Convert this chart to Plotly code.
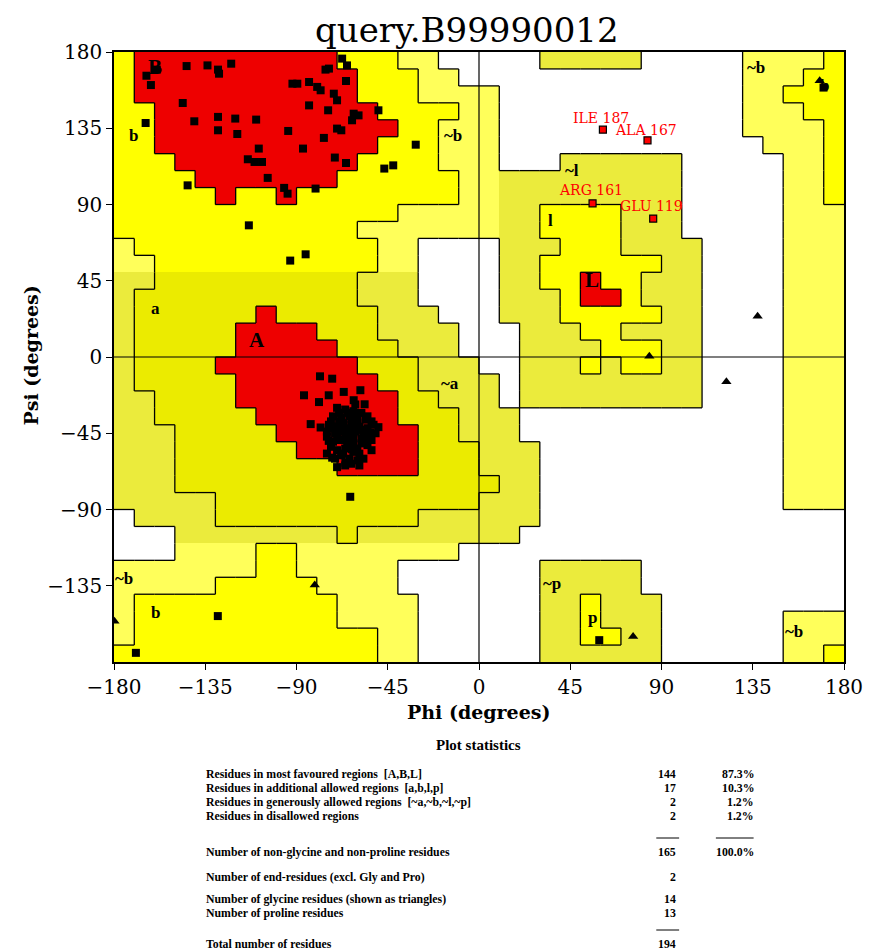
import plotly.graph_objects as go

# ---------------- data ----------------
# Region grid: 36 rows (psi 180 -> -180, 10 deg each), 36 cols (phi -180 -> 180)
# '.' disallowed, 'p' generous(beta), 'q' generous(alpha), 'Y' allowed(beta), 'O' allowed(alpha), 'R' core
region_rows = [
    "YRRRRRRRRRRYYYpp.." + "...qqqqq.....ppppY",
    "YRRRRRRRRRRRYYYpp." + ".............pppYY",
    "YRRRRRRRRRRRYYYppp" + "p............ppYYY",
    "YYRRRRRRRRRRRYYYYp" + "p............pppYY",
    "YYRRRRRRRRRRRRYYpp" + "p............ppppY",
    "YYRRRRRRRRRRRYYYpp" + "p.............pppY",
    "YYYRRRRRRRRRYYYYpp" + "p...qqqqqq.....ppY",
    "YYYYRRRRRRRYYYYYYp" + "pqqqqqqqqq.....ppY",
    "YYYYYRYYRYYYYYYYYp" + "pqqqqqqqqq.....ppY",
    "YYYYYYYYYYYYYYpppp" + "pqqYYYYqqq.....ppp",
    "YYYYYYYYYYYYpppppp" + "pqqYYYYqqq.....ppp",
    "pYYYYYYYYYYYYpp..." + ".qqqYYYqqqq....ppp",
    "ppYYYYYYYYYYYpp..." + ".qqYYYYYYqq....ppp",
    "qqOOOOOOOOOOqqq..." + ".qqYYRYYqqq....ppp",
    "qOOOOOOOOOOOqqq..." + ".qqqYRRYqqq....ppp",
    "qOOOOOOROOOOOqqq.." + ".qqqYYYYYqq....ppp",
    "qOOOOORRRROOOqqqq." + "..qqqYYqqqq....ppp",
    "qOOOOORRRRROOOqqq." + "..qqqqYYYqq....ppp",
    "qOOOORRRRRRROOOqqq" + "..qqqYqYYqq....ppp",
    "qOOOOORRRRRRROOqqq" + "q.qqqqqqqqq....ppp",
    "qqOOOORRRRRRRROOqq" + "q.qqqqqqqqq....ppp",
    "qqOOOOORRRRRRROOOq" + "qq.............ppp",
    "qqqOOOOORRRRRRROOq" + "qq.............ppp",
    "qqqOOOOOORRRRRROOO" + "qqq............ppp",
    "qqqOOOOOOOORRRROOO" + "qqq............ppp",
    "qqqOOOOOOOOOOOOOOO" + "Oqq............ppp",
    "qqqqqOOOOOOOOOOOOO" + "qqq............ppp",
    ".qqqqOOOOOOOOOOqqq" + "qqq...............",
    "...qqqqqqqqOqqqqqq" + "qq................",
    "...ppppYYpppppppp." + "..................",
    "pppppppYYppppp...." + "...qqqqq..........",
    "pppppYYYYYpppp...." + "...qqqqq..........",
    "pYYYYYYYYYYpppp..." + "...qqYqqq.........",
    "pYYYYYYYYYYpppp..." + "...qqYqqq......ppp",
    "pYYYYYYYYYYYYpp..." + "...qqYYqq......ppp",
    "YYYYYYYYYYYYYpp..." + "...qqqqqq......ppY",
]
phi_centers = list(range(-175, 180, 10))
psi_centers = list(range(175, -180, -10))

# residues in the beta region (squares)
beta_phi = [-164, -161.8, -158.9, -144.2, -133.9, -128.7, -128.2, -122.2, -75.7, -74.0,
            -67.5, -65.1, -92.0, -89.6, -83.8, -79.8, -78.1, -71.6, -70.0, -65.6,
            -146.1, -83.8, -74.4, -61.8, -59.4, -62.6, -49.6, -164.4, -140.4, -128.7,
            -120.2, -109.9, -128.7, -119.2, -94.1, -76.5, -70.0, -67.9, -86.8, -108.6,
            -114.0, -110.7, -107.0, -71.1, -65.6, -104.2, -96.1, -94.4, -80.6, -143.7,
            -31.2, -46.7, -42.3, -113.5, -85.5, -93.1, 169.9]
beta_psi = [166, 160.5, 169.6, 171.7, 172.1, 169.6, 167.2, 173.1, 169.6, 170.2,
            176.1, 172.1, 161.3, 161.3, 162.3, 159.4, 157.4, 155.4, 151.5, 162.9,
            149.9, 148.5, 145.6, 143.6, 142.6, 139.7, 145.6, 138.1, 139.1, 141.7,
            140.7, 140.1, 133.8, 131.6, 133.4, 129.3, 134.8, 133.8, 123.0, 123.0,
            116.7, 115.1, 115.1, 117.7, 114.5, 105.7, 99.8, 96.4, 99.4, 101.3,
            125.3, 111.2, 113.1, 77.7, 60.6, 56.9, 159.0]

# residues in the alpha region (squares)
alpha_phi = [-70, -66, -62, -58, -72, -68, -64, -60, -56, -53,
             -74, -70, -67, -63, -59, -55, -52, -71, -67, -64,
             -61, -57, -54, -69, -65, -62, -58, -55, -73, -70,
             -66, -62, -59, -68, -64, -60, -75, -72, -65, -60,
             -63, -69, -57, -62, -66, -71, -75, -53, -61, -65,
             -68, -64, -60, -56, -70, -66, -62, -58, -64, -60,
             -67, -63, -57, -72, -61, -55, -69, -73, -75, -51,
             -59, -66, -53, -70,
             -78.4, -72.4, -86.3, -78.9, -74.1, -66.7, -58.5, -61.8, -56.4, -49.6,
             -83.0, -78.1, -74.1, -72.4, -65.9, -62.6, -56.1, -53.6]
alpha_psi = [-30, -31, -32, -33, -35, -36, -35, -36, -37, -38,
             -40, -41, -39, -40, -41, -42, -40, -45, -44, -46,
             -44, -46, -47, -49, -50, -48, -51, -52, -53, -55,
             -54, -56, -57, -58, -60, -61, -47, -50, -42, -39,
             -37, -38, -43, -52, -47, -60, -57, -49, -28, -33,
             -43, -43, -43, -45, -47, -49, -45, -48, -53, -54,
             -57, -63, -60, -42, -33, -35, -33, -38, -44, -45,
             -64, -64, -55, -65,
             -11.4, -12.8, -22.6, -26.6, -22.6, -20.6, -19.6, -25.5, -27.9, -41.4,
             -39.6, -41.6, -49.5, -59.4, -62.4, -54.5, -48.6, -44.7]

# other non-glycine residues (squares)
other_phi = [-63.5, -128.8, -169.2, 59.3]
other_psi = [-82.5, -152.9, -174.6, -167.1]

# glycine residues (triangles)
gly_phi = [-179.8, -81.0, 76.0, 122.0, 84.0, 137.4, 168.0]
gly_psi = [-156.0, -134.5, -165.0, -14.6, 0.5, 24.1, 163.0]

# flagged residues (red squares with labels)
flag_phi = [61.1, 83.1, 56.0, 85.9]
flag_psi = [134.2, 127.9, 90.7, 81.7]
flag_names = ["ILE 187", "ALA 167", "ARG 161", "GLU 119"]
flag_label_phi = [60.0, 82.6, 55.2, 85.1]
flag_label_psi = [141.0, 133.8, 98.4, 89.0]

# region labels
region_label_text = ["B", "b", "~b", "a", "A", "~a", "~l", "l", "L", "~b", "b", "~b", "b", "~p", "p", "~b"]
region_label_phi = [-159.7, -170.5, -12.9, -159.7, -109.3, -14.3, 45.9, 35.1, 55.7, 136.4, 170.2, -174.9, -159.7, 36.1, 56.2, 155.1]
region_label_psi = [171.0, 130.9, 130.9, 28.7, 9.9, -15.5, 110.2, 80.6, 45.3, 171.0, 160.0, -130.5, -150.5, -133.7, -153.7, -162.2]
region_label_big = ["B", "A", "L"]

tick_vals = [-180, -135, -90, -45, 0, 45, 90, 135, 180]
ytick_vals = [180, 135, 90, 45, 0, -45, -90, -135]

stat_labels = [
    "Residues in most favoured regions  [A,B,L]",
    "Residues in additional allowed regions  [a,b,l,p]",
    "Residues in generously allowed regions  [~a,~b,~l,~p]",
    "Residues in disallowed regions",
    "Number of non-glycine and non-proline residues",
    "Number of end-residues (excl. Gly and Pro)",
    "Number of glycine residues (shown as triangles)",
    "Number of proline residues",
    "Total number of residues",
]
stat_counts = ["144", "17", "2", "2", "165", "2", "14", "13", "194"]
stat_pcts = ["87.3%", "10.3%", "1.2%", "1.2%", "100.0%", "", "", "", ""]

# ---------------- layout constants ----------------
PAGE_OFF = 8                     # default body margin of the html page
W, H = 875 - PAGE_OFF, 951 - PAGE_OFF
L, R, T, B = 106, 26, 44, 289
PW, PH = W - L - R, H - T - B
stat_row_px = [774, 788, 802, 816, 852, 877, 899, 913, 944]


def px_x(px):
    return (px - PAGE_OFF - L) / PW


def px_y(py):
    return (H - B - (py - PAGE_OFF)) / PH


code_map = {'.': 0, 'p': 1, 'q': 2, 'Y': 3, 'O': 4, 'R': 5}
class_map = {'.': 0, 'p': 1, 'q': 1, 'Y': 2, 'O': 2, 'R': 3}
colors = ['#FFFFFF', '#FFFF5A', '#EBEB3C', '#FFFF00', '#EBEB00', '#EE0000']
cscale = []
for i, c in enumerate(colors):
    cscale.append([i / 6, c])
    cscale.append([(i + 1) / 6, c])

z = [[code_map[ch] for ch in row] for row in region_rows]

fig = go.Figure()
fig.add_trace(go.Heatmap(x=phi_centers, y=psi_centers, z=z, colorscale=cscale,
                         zmin=-0.5, zmax=5.5, showscale=False, hoverinfo='skip'))

# boundary lines between region classes
bx, by = [], []
n = len(region_rows)
for r in range(n):
    for c in range(n - 1):
        if class_map[region_rows[r][c]] != class_map[region_rows[r][c + 1]]:
            xb = phi_centers[c] + 5
            bx += [xb, xb, None]
            by += [psi_centers[r] + 5, psi_centers[r] - 5, None]
for r in range(n - 1):
    for c in range(n):
        if class_map[region_rows[r][c]] != class_map[region_rows[r + 1][c]]:
            yb = psi_centers[r] - 5
            bx += [phi_centers[c] - 5, phi_centers[c] + 5, None]
            by += [yb, yb, None]
fig.add_trace(go.Scatter(x=bx, y=by, mode='lines', line=dict(color='black', width=1.3),
                         hoverinfo='skip'))

sq = dict(symbol='square', size=8, color='black', line=dict(width=0))
fig.add_trace(go.Scatter(x=beta_phi, y=beta_psi, mode='markers', marker=sq))
fig.add_trace(go.Scatter(x=alpha_phi, y=alpha_psi, mode='markers', marker=sq))
fig.add_trace(go.Scatter(x=other_phi, y=other_psi, mode='markers', marker=sq))
fig.add_trace(go.Scatter(x=gly_phi, y=gly_psi, mode='markers',
                         marker=dict(symbol='triangle-up', size=9, color='black')))
fig.add_trace(go.Scatter(x=flag_phi, y=flag_psi, mode='markers',
                         marker=dict(symbol='square', size=7, color='#FF0000',
                                     line=dict(color='black', width=1.2))))

annotations = []
for t, x, y in zip(region_label_text, region_label_phi, region_label_psi):
    big = t in region_label_big
    annotations.append(dict(x=x, y=y, text='<b>' + t + '</b>', showarrow=False, xref='x', yref='y',
                            font=dict(family='Liberation Serif', size=21 if big else 17,
                                      color='black'),
                            xanchor='center', yanchor='middle'))
for t, x, y in zip(flag_names, flag_label_phi, flag_label_psi):
    annotations.append(dict(x=x, y=y, text=t, showarrow=False, xref='x', yref='y',
                            font=dict(family='DejaVu Serif', size=14, color='#FF0000'),
                            xanchor='center', yanchor='middle'))

# axis titles and chart title
annotations.append(dict(x=px_x(481), y=px_y(712), xref='paper', yref='paper', showarrow=False,
                        text='<b>Phi (degrees)</b>', font=dict(family='DejaVu Serif', size=19, color='black'),
                        xanchor='center', yanchor='middle'))
annotations.append(dict(x=px_x(30), y=px_y(356), xref='paper', yref='paper', showarrow=False,
                        text='<b>Psi (degrees)</b>', textangle=-90,
                        font=dict(family='DejaVu Serif', size=19, color='black'),
                        xanchor='center', yanchor='middle'))
annotations.append(dict(x=px_x(469), y=px_y(30), xref='paper', yref='paper', showarrow=False,
                        text='query.B99990012', font=dict(family='DejaVu Serif', size=34, color='black'),
                        xanchor='center', yanchor='middle'))

# statistics block
sfont = dict(family='Liberation Serif', size=11.8, color='black')
annotations.append(dict(x=px_x(481), y=px_y(745), xref='paper', yref='paper', showarrow=False,
                        text='<b>Plot statistics</b>',
                        font=dict(family='Liberation Serif', size=15, color='black'),
                        xanchor='center', yanchor='middle'))
for lab, cnt, pct, py in zip(stat_labels, stat_counts, stat_pcts, stat_row_px):
    annotations.append(dict(x=px_x(205), y=px_y(py), xref='paper', yref='paper', showarrow=False,
                            text='<b>' + lab + '</b>', font=sfont, xanchor='left', yanchor='middle'))
    annotations.append(dict(x=px_x(682), y=px_y(py), xref='paper', yref='paper', showarrow=False,
                            text='<b>' + cnt + '</b>', font=sfont, xanchor='right', yanchor='middle'))
    if pct:
        annotations.append(dict(x=px_x(760), y=px_y(py), xref='paper', yref='paper', showarrow=False,
                                text='<b>' + pct + '</b>', font=sfont, xanchor='right', yanchor='middle'))

shapes = [
    dict(type='line', xref='x', yref='y', x0=-180, x1=180, y0=0, y1=0,
         line=dict(color='black', width=1.2), layer='above'),
    dict(type='line', xref='x', yref='y', x0=0, x1=0, y0=-180, y1=180,
         line=dict(color='black', width=1.2), layer='above'),
    dict(type='line', xref='paper', yref='paper', x0=px_x(660), x1=px_x(683), y0=px_y(838), y1=px_y(838),
         line=dict(color='black', width=1)),
    dict(type='line', xref='paper', yref='paper', x0=px_x(720), x1=px_x(758), y0=px_y(838), y1=px_y(838),
         line=dict(color='black', width=1)),
    dict(type='line', xref='paper', yref='paper', x0=px_x(660), x1=px_x(683), y0=px_y(930), y1=px_y(930),
         line=dict(color='black', width=1)),
]

axis_common = dict(showgrid=False, zeroline=False, showline=True, mirror=True,
                   linecolor='black', linewidth=1.5, ticks='outside', ticklen=6,
                   tickcolor='black', tickfont=dict(family='DejaVu Serif', size=20, color='black'))
fig.update_layout(
    width=W, height=H, autosize=False,
    margin=dict(l=L, r=R, t=T, b=B),
    paper_bgcolor='white', plot_bgcolor='white',
    showlegend=False,
    xaxis=dict(range=[-180, 180], tickvals=tick_vals, **axis_common),
    yaxis=dict(range=[-180, 180], tickvals=ytick_vals, **axis_common),
    annotations=annotations,
    shapes=shapes,
)

fig.write_html("out.html")
